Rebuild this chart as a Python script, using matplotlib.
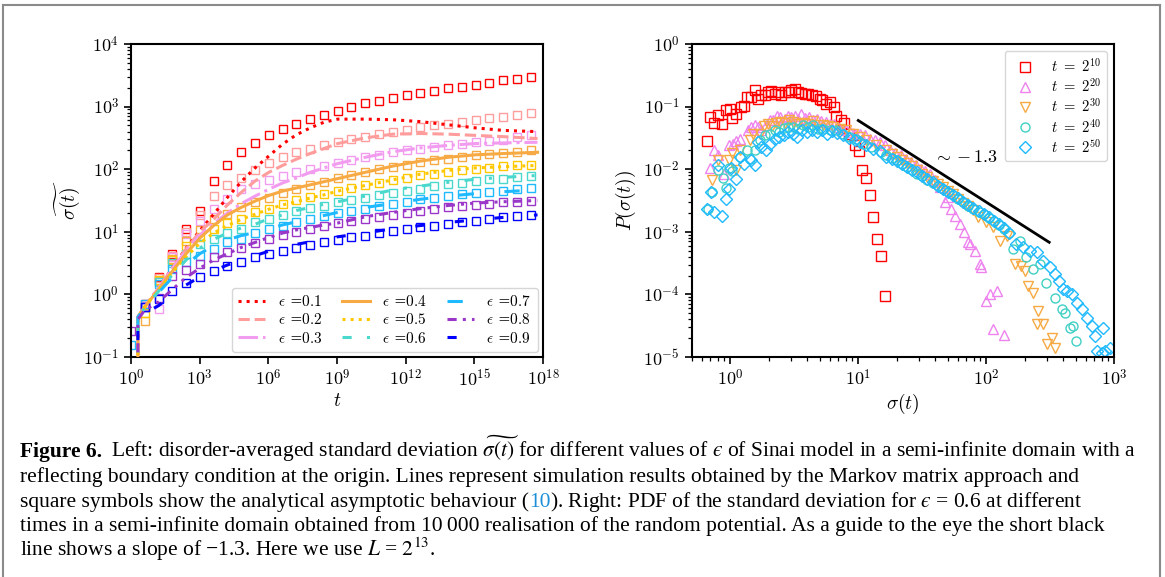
import numpy as np
import matplotlib
matplotlib.use("Agg")
import matplotlib.pyplot as plt
from matplotlib import ticker
from matplotlib.lines import Line2D

plt.rcParams["mathtext.fontset"] = "cm"
plt.rcParams["font.family"] = ["DejaVu Serif"]

# ---------------- left panel data (log10 of sigma~) ----------------
eps_labels = ["0.1", "0.2", "0.3", "0.4", "0.5", "0.6", "0.7", "0.8", "0.9"]
eps_colors = ["#ff0000", "#ff9c9c", "#f29cf0", "#f7a944", "#ffc800",
              "#4ad8cc", "#1eb9ff", "#9a36c8", "#0000ff"]

# analytical squares at t = 2^n
sq_n = [0, 2, 4, 6, 8, 10, 12, 14, 16, 18, 20, 22, 24, 26, 28, 30, 32, 34, 36, 38,
        40, 42, 44, 46, 48, 50, 52, 54, 56, 58]
nan = np.nan
sq_01 = [nan, -0.15, 0.28, 0.65, 1.05, 1.34, 1.81, 2.07, 2.27, 2.42, 2.54, 2.64, 2.72, 2.80, 2.87,
         2.93, 2.99, 3.05, 3.09, 3.14, 3.18, 3.22, 3.25, 3.29, 3.32, 3.35, 3.38, 3.42, 3.44, 3.47]
sq_02 = [nan, -0.2, 0.26, 0.62, 1.0, 1.27, 1.57, 1.74, 1.86, 1.98, 2.10, 2.19, 2.27, 2.33, 2.38,
         2.44, 2.48, 2.52, 2.56, 2.60, 2.63, 2.67, 2.70, 2.73, 2.76, 2.79, 2.81, 2.83, 2.86, 2.89]
sq_03 = [nan, -0.18, -0.23, 0.6, 0.97, 1.18, 1.36, 1.52, 1.69, 1.76, 1.82, 1.89, 1.95, 2.0, 2.05,
         2.10, 2.15, 2.19, 2.23, 2.27, 2.30, 2.33, 2.36, 2.38, 2.40, 2.43, 2.45, 2.47, 2.51, 2.54]
sq_04 = [nan, -0.42, 0.22, 0.56, 0.85, 1.03, 1.20, 1.28, 1.40, 1.48, 1.54, 1.62, 1.69, 1.75, 1.80,
         1.86, 1.91, 1.95, 2.0, 2.04, 2.075, 2.11, 2.14, 2.165, 2.20, 2.22, 2.245, 2.26, 2.28, 2.30]
sq_05 = [nan, -0.3, 0.23, 0.55, 0.78, 0.92, 1.04, 1.14, 1.21, 1.31, 1.37, 1.44, 1.50, 1.555, 1.61,
         1.65, 1.70, 1.75, 1.78, 1.83, 1.86, 1.90, 1.93, 1.955, 1.98, 2.0, 2.02, 2.05, 2.06, 2.075]
sq_06 = [nan, -0.2, 0.2, 0.5, 0.65, 0.80, 0.88, 0.98, 1.05, 1.15, 1.21, 1.27, 1.33, 1.375, 1.41,
         1.47, 1.51, 1.545, 1.59, 1.62, 1.65, 1.69, 1.73, 1.76, 1.78, 1.81, 1.84, 1.85, 1.87, 1.89]
sq_07 = [-0.81, -0.15, 0.17, 0.41, 0.51, 0.62, 0.72, 0.83, 0.89, 0.98, 1.04, 1.09, 1.16, 1.21, 1.25,
         1.30, 1.34, 1.37, 1.41, 1.44, 1.48, 1.52, 1.545, 1.57, 1.60, 1.62, 1.64, 1.65, 1.68, 1.70]
sq_08 = [-0.58, -0.2, -0.05, 0.29, 0.39, 0.48, 0.59, 0.67, 0.74, 0.82, 0.88, 0.95, 1.00, 1.05, 1.09,
         1.14, 1.17, 1.20, 1.24, 1.27, 1.30, 1.33, 1.36, 1.39, 1.41, 1.43, 1.45, 1.47, 1.48, 1.49]
sq_09 = [nan, -0.2, -0.07, 0.06, 0.18, 0.285, 0.37, 0.45, 0.52, 0.59, 0.65, 0.70, 0.74, 0.79, 0.83,
         0.87, 0.91, 0.935, 0.98, 1.01, 1.04, 1.08, 1.10, 1.13, 1.16, 1.18, 1.21, 1.23, 1.25, 1.27]

# Markov-matrix simulation lines at t = 2^n
ln_n = [1, 1, 2, 4, 6, 8, 10, 12, 14, 16, 18, 20, 22, 24, 26, 28, 30, 34, 38, 42, 46, 50, 54, 59]
ln_01 = [-2, -0.36, -0.2, 0.1, 0.42, 0.74, 1.02, 1.28, 1.55, 1.80, 2.02, 2.21, 2.40, 2.55, 2.66,
         2.75, 2.80, 2.80, 2.79, 2.76, 2.71, 2.66, 2.62, 2.60]
ln_02 = [-2, -0.36, -0.2, 0.1, 0.42, 0.73, 1.0, 1.2, 1.43, 1.63, 1.81, 1.95, 2.06, 2.16, 2.25,
         2.33, 2.41, 2.50, 2.56, 2.57, 2.56, 2.54, 2.52, 2.49]
ln_03 = [-2, -0.36, -0.2, 0.1, 0.41, 0.7, 0.95, 1.13, 1.3, 1.45, 1.57, 1.68, 1.78, 1.86, 1.95,
         2.02, 2.09, 2.19, 2.28, 2.34, 2.38, 2.41, 2.42, 2.43]
ln_04 = [-2, -0.36, -0.2, 0.08, 0.37, 0.65, 0.9, 1.1, 1.27, 1.39, 1.49, 1.58, 1.65, 1.70, 1.75,
         1.80, 1.85, 1.95, 2.05, 2.13, 2.19, 2.23, 2.25, 2.27]
ln_05 = [-2, -0.36, -0.2, 0.07, 0.35, 0.6, 0.82, 0.98, 1.1, 1.2, 1.28, 1.36, 1.43, 1.48, 1.54,
         1.59, 1.65, 1.74, 1.83, 1.92, 1.98, 2.02, 2.04, 2.06]
ln_06 = [-2, -0.36, -0.22, 0.05, 0.31, 0.55, 0.74, 0.88, 0.98, 1.06, 1.12, 1.21, 1.27, 1.34, 1.39,
         1.44, 1.48, 1.57, 1.67, 1.73, 1.79, 1.84, 1.87, 1.90]
ln_07 = [-2, -0.36, -0.22, 0.03, 0.27, 0.48, 0.65, 0.78, 0.87, 0.94, 0.99, 1.05, 1.11, 1.16, 1.21,
         1.26, 1.31, 1.39, 1.45, 1.52, 1.57, 1.61, 1.64, 1.67]
ln_08 = [-2, -0.4, -0.25, -0.12, 0.08, 0.27, 0.42, 0.55, 0.65, 0.75, 0.83, 0.91, 0.98, 1.03, 1.07,
         1.11, 1.14, 1.24, 1.31, 1.37, 1.42, 1.46, 1.48, 1.50]
ln_09 = [-2, -0.45, -0.3, -0.18, 0.0, 0.15, 0.28, 0.38, 0.47, 0.55, 0.62, 0.69, 0.74, 0.80, 0.84,
         0.88, 0.92, 0.98, 1.05, 1.10, 1.15, 1.19, 1.23, 1.27]

squares = [sq_01, sq_02, sq_03, sq_04, sq_05, sq_06, sq_07, sq_08, sq_09]
lines = [ln_01, ln_02, ln_03, ln_04, ln_05, ln_06, ln_07, ln_08, ln_09]
styles = [":", "--", "-.", "-", ":", (0, (3, 5, 1, 5)), (0, (5, 10)),
          (0, (3, 2, 1, 2, 1, 2)), (0, (3, 10))]

# ---------------- right panel data (log10 sigma, log10 P), eps = 0.6 ----------------
t_labels = ["10", "20", "30", "40", "50"]
r_colors = ["#ff0000", "#ee82ee", "#f7a944", "#40d0c4", "#1eb9ff"]
r_markers = ["s", "^", "v", "o", "D"]

p10_s = [-0.183, -0.156, -0.123, -0.097, -0.066, -0.037, -0.005, 0.016, 0.047, 0.081, 0.104, 0.13,
         0.164, 0.19, 0.216, 0.242, 0.268, 0.294, 0.32, 0.346, 0.372, 0.398, 0.425, 0.456, 0.477,
         0.503, 0.529, 0.555, 0.581, 0.607, 0.641, 0.672, 0.698, 0.719, 0.745, 0.776, 0.81, 0.829,
         0.862, 0.886, 0.927, 0.972, 1.006, 1.032, 1.063, 1.089, 1.115, 1.147, 1.175, 1.207]
p10_p = [-1.557, -1.167, -1.257, -1.14, -1.284, -1.048, -1.032, -1.177, -1.113, -1.006, -0.995,
         -0.846, -0.846, -0.738, -0.872, -0.819, -0.819, -0.765, -0.749, -0.792, -0.765, -0.819,
         -0.765, -0.765, -0.738, -0.711, -0.765, -0.781, -0.803, -0.803, -0.819, -0.835, -0.872,
         -0.899, -0.963, -0.926, -1.006, -1.156, -1.209, -1.263, -1.434, -1.621, -1.717, -2.006,
         -2.146, -2.408, -2.761, -3.12, -3.39, -4.03]

p20_s = [-0.156, -0.13, -0.097, -0.045, -0.011, 0.02, 0.047, 0.078, 0.138, 0.164, 0.19, 0.216,
         0.242, 0.276, 0.307, 0.333, 0.364, 0.391, 0.425, 0.45, 0.477, 0.503, 0.529, 0.555, 0.581,
         0.615, 0.646, 0.677, 0.711, 0.745, 0.776, 0.808, 0.841, 0.876, 0.907, 0.938, 0.972, 1.011,
         1.05, 1.089, 1.128, 1.167, 1.206, 1.25, 1.29, 1.33, 1.37, 1.41, 1.45, 1.49, 1.52, 1.559,
         1.60, 1.637, 1.676, 1.70, 1.728, 1.754, 1.798, 1.824, 1.858, 1.871, 1.91, 1.949, 1.962,
         2.0, 2.028, 2.08, 2.054, 2.14]
p20_p = [-1.98, -1.69, -1.78, -2.08, -1.62, -1.59, -1.55, -1.51, -1.38, -1.33, -1.30, -1.33, -1.38,
         -1.30, -1.22, -1.22, -1.156, -1.167, -1.193, -1.156, -1.167, -1.156, -1.193, -1.113, -1.177,
         -1.167, -1.209, -1.193, -1.231, -1.247, -1.273, -1.284, -1.327, -1.353, -1.369, -1.407,
         -1.433, -1.433, -1.46, -1.514, -1.53, -1.568, -1.621, -1.70, -1.74, -1.78, -1.84, -1.88,
         -1.93, -1.99, -2.03, -2.076, -2.17, -2.29, -2.53, -2.45, -2.63, -2.74, -2.87, -3.01, -3.16,
         -3.2, -3.31, -3.52, -3.56, -4.11, -4.0, -3.95, -4.56, -4.65]

p30_s = [-0.141, -0.097, -0.011, 0.016, 0.047, 0.073, 0.151, 0.177, 0.229, 0.26, 0.294, 0.328,
         0.359, 0.385, 0.425, 0.456, 0.49, 0.529, 0.568, 0.607, 0.646, 0.685, 0.724, 0.763, 0.802,
         0.854, 0.907, 0.959, 1.011, 1.063, 1.141, 1.219, 1.26, 1.30, 1.34, 1.38, 1.42, 1.46, 1.50,
         1.54, 1.58, 1.62, 1.66, 1.70, 1.74, 1.78, 1.82, 1.86, 1.90, 1.937, 2.0, 2.05, 2.106, 2.158,
         2.223, 2.275, 2.3, 2.327, 2.366, 2.405, 2.393, 2.445, 2.51, 2.476, 2.536]
p30_p = [-2.17, -1.86, -1.85, -1.74, -2.01, -1.70, -1.53, -1.43, -1.43, -1.31, -1.28, -1.31, -1.26,
         -1.24, -1.26, -1.22, -1.24, -1.28, -1.26, -1.27, -1.23, -1.30, -1.29, -1.31, -1.33, -1.36,
         -1.38, -1.43, -1.49, -1.54, -1.62, -1.69, -1.76, -1.80, -1.85, -1.90, -1.95, -2.01, -2.07,
         -2.12, -2.19, -2.24, -2.29, -2.35, -2.40, -2.47, -2.54, -2.59, -2.65, -2.77, -2.84, -2.93,
         -3.15, -3.07, -3.52, -3.55, -3.63, -3.87, -3.98, -4.27, -4.48, -4.48, -4.70, -4.80, -4.86]

p40_s = [-0.174, -0.141, -0.097, -0.058, -0.037, -0.011, 0.016, 0.078, 0.13, 0.156, 0.19, 0.229,
         0.268, 0.307, 0.346, 0.38, 0.417, 0.45, 0.49, 0.529, 0.568, 0.607, 0.646, 0.685, 0.724,
         0.776, 0.829, 0.881, 0.933, 0.985, 1.037, 1.102, 1.18, 1.22, 1.26, 1.30, 1.34, 1.38, 1.42,
         1.46, 1.50, 1.54, 1.58, 1.62, 1.66, 1.70, 1.74, 1.78, 1.82, 1.86, 1.90, 1.94, 1.98, 2.02,
         2.06, 2.10, 2.14, 2.18, 2.21, 2.26, 2.314, 2.366, 2.419, 2.47, 2.536, 2.588, 2.614, 2.653,
         2.679, 2.70]
p40_p = [-2.64, -2.37, -2.01, -2.14, -2.30, -1.98, -2.03, -1.81, -1.69, -1.83, -1.69, -1.54, -1.46,
         -1.44, -1.37, -1.41, -1.34, -1.33, -1.32, -1.35, -1.30, -1.33, -1.30, -1.35, -1.35, -1.37,
         -1.38, -1.43, -1.48, -1.51, -1.59, -1.65, -1.73, -1.78, -1.82, -1.86, -1.92, -1.97, -2.02,
         -2.07, -2.11, -2.17, -2.22, -2.27, -2.32, -2.37, -2.42, -2.48, -2.53, -2.59, -2.64, -2.68,
         -2.72, -2.78, -2.83, -2.89, -2.95, -3.02, -3.28, -3.15, -3.41, -3.60, -3.52, -3.81, -4.06,
         -4.24, -4.30, -4.54, -4.51, -4.74]

p50_s = [-0.183, -0.149, -0.123, -0.097, -0.063, -0.031, -0.011, 0.008, 0.047, 0.078, 0.104, 0.164,
         0.19, 0.216, 0.242, 0.276, 0.307, 0.346, 0.38, 0.417, 0.45, 0.49, 0.524, 0.563, 0.6, 0.641,
         0.677, 0.719, 0.755, 0.797, 0.836, 0.881, 0.927, 0.972, 1.016, 1.063, 1.115, 1.167, 1.219,
         1.26, 1.30, 1.34, 1.38, 1.42, 1.46, 1.50, 1.54, 1.58, 1.62, 1.66, 1.70, 1.74, 1.78, 1.82,
         1.86, 1.90, 1.94, 1.98, 2.02, 2.06, 2.10, 2.14, 2.18, 2.236, 2.288, 2.34, 2.393, 2.445,
         2.497, 2.536, 2.57, 2.596, 2.627, 2.666, 2.705, 2.744, 2.783, 2.823, 2.849, 2.914, 2.867,
         2.901, 2.927, 2.966]
p50_p = [-2.63, -2.37, -2.69, -1.94, -2.74, -2.47, -2.31, -1.98, -2.16, -1.81, -1.92, -1.86, -1.93,
         -1.57, -1.65, -1.70, -1.59, -1.51, -1.48, -1.46, -1.41, -1.43, -1.48, -1.38, -1.41, -1.38,
         -1.41, -1.38, -1.43, -1.39, -1.42, -1.46, -1.50, -1.54, -1.57, -1.62, -1.68, -1.71, -1.80,
         -1.83, -1.87, -1.91, -1.96, -2.01, -2.05, -2.11, -2.16, -2.21, -2.27, -2.31, -2.36, -2.41,
         -2.46, -2.52, -2.57, -2.62, -2.67, -2.72, -2.77, -2.82, -2.88, -2.94, -3.02, -3.2, -3.25,
         -3.31, -3.33, -3.47, -3.57, -3.68, -3.78, -3.92, -3.95, -4.0, -4.14, -4.24, -4.38, -4.51,
         -4.67, -4.54, -4.91, -4.93, -4.90, -4.86]

slope_x = [10, 310]
slope_y = [0.06, 6.8e-4]

right_s = [p10_s, p20_s, p30_s, p40_s, p50_s]
right_p = [p10_p, p20_p, p30_p, p40_p, p50_p]


def pow10_fmt(v, _):
    return r"$10^{%d}$" % int(round(np.log10(v)))


W, H = 1165, 577
fig = plt.figure(figsize=(W / 100, H / 100), dpi=100)

# ---------------- left panel ----------------
axl = fig.add_axes([131 / W, 1 - 357 / H, (543 - 131) / W, (357 - 44) / H])
for i in range(9):
    axl.plot(2.0 ** np.array(sq_n), 10 ** np.array(squares[i]), "s", ms=6, mfc="none",
             mec=eps_colors[i], mew=1.0, zorder=2)
handles = []
for i in range(9):
    h, = axl.plot(2.0 ** np.array(ln_n), 10 ** np.array(lines[i]), color=eps_colors[i],
                  ls=styles[i], lw=2.2, zorder=3)
    handles.append(h)
axl.set_xscale("log")
axl.set_yscale("log")
axl.set_xlim(1, 1e18)
axl.set_ylim(0.1, 1e4)
axl.xaxis.set_major_locator(ticker.FixedLocator(10.0 ** np.arange(0, 19, 3)))
axl.xaxis.set_minor_locator(ticker.NullLocator())
axl.xaxis.set_major_formatter(ticker.FuncFormatter(pow10_fmt))
axl.yaxis.set_major_locator(ticker.LogLocator(base=10, numticks=10))
axl.yaxis.set_minor_locator(ticker.LogLocator(base=10, subs=np.arange(2, 10), numticks=20))
axl.yaxis.set_minor_formatter(ticker.NullFormatter())
axl.yaxis.set_major_formatter(ticker.FuncFormatter(pow10_fmt))
axl.tick_params(labelsize=13, width=1.2, length=5)
axl.tick_params(which="minor", width=0.9, length=3)
for sp in axl.spines.values():
    sp.set_linewidth(1.5)
axl.set_xlabel(r"$t$", fontsize=14, labelpad=2)
axl.set_ylabel(r"$\widetilde{\sigma(t)}$", fontsize=14, labelpad=1)
axl.legend(handles, [r"$\epsilon$ =$%s$" % e for e in eps_labels], ncol=3, loc="lower right",
           fontsize=11, handlelength=1.8, columnspacing=1.3, borderpad=0.4, labelspacing=0.2,
           borderaxespad=0.35, fancybox=True, framealpha=0.8)

# ---------------- right panel ----------------
axr = fig.add_axes([691.7 / W, 1 - 357 / H, (1114.3 - 691.7) / W, (357 - 44) / H])
for i in range(5):
    axr.plot(10 ** np.array(right_s[i]), 10 ** np.array(right_p[i]), r_markers[i], ls="none",
             ms=6.5 if r_markers[i] in "s^vo" else 6, mfc="none", mec=r_colors[i], mew=1.0,
             label=r"$t\ =\ 2^{%s}$" % t_labels[i])
axr.plot(slope_x, slope_y, color="black", lw=2)
axr.text(69, 0.0155, r"$\sim -1.3$", fontsize=13, ha="center", va="center", zorder=5)
axr.set_xscale("log")
axr.set_yscale("log")
axr.set_xlim(0.5, 1000)
axr.set_ylim(1e-5, 1)
axr.xaxis.set_major_locator(ticker.LogLocator(base=10, numticks=10))
axr.xaxis.set_minor_locator(ticker.LogLocator(base=10, subs=np.arange(2, 10), numticks=20))
axr.yaxis.set_major_locator(ticker.LogLocator(base=10, numticks=10))
axr.yaxis.set_minor_locator(ticker.LogLocator(base=10, subs=np.arange(2, 10), numticks=20))
for ax_ in (axr.xaxis, axr.yaxis):
    ax_.set_major_formatter(ticker.FuncFormatter(pow10_fmt))
    ax_.set_minor_formatter(ticker.NullFormatter())
axr.tick_params(labelsize=13, width=1.2, length=5)
axr.tick_params(which="minor", width=0.9, length=3)
for sp in axr.spines.values():
    sp.set_linewidth(1.5)
axr.set_xlabel(r"$\sigma(t)$", fontsize=14, labelpad=2)
axr.set_ylabel(r"$P(\sigma(t))$", fontsize=14, labelpad=4)
axr.legend(loc="upper right", fontsize=10.5, numpoints=1, borderpad=0.4, labelspacing=0.15,
           fancybox=True, framealpha=0.8)

# ---------------- frame around figure ----------------
gray = "#8a8a8a"
fig.add_artist(Line2D([3 / W, 3 / W], [0, 1 - 5 / H], color=gray, lw=1.5))
fig.add_artist(Line2D([3 / W, 1160 / W], [1 - 5 / H, 1 - 5 / H], color=gray, lw=1.5))
fig.add_artist(Line2D([1160 / W, 1160 / W], [0, 1 - 5 / H], color=gray, lw=1.5))

# ---------------- caption ----------------
cap = fig.add_axes([0, 0, 1, 1])
cap.axis("off")
cfont = dict(family="Liberation Serif", fontsize=15.5, math_fontfamily="stix")
base = [457, 482, 507, 531.5, 556]

caption = [
    [("Figure 6.", "black", "bold", 0),
     (r"Left: disorder-averaged standard deviation $\widetilde{\sigma(t)}$ for different values of "
      "$\u03f5$ of Sinai model in a semi-infinite domain with a", "black", "normal", 9)],
    [("reflecting boundary condition at the origin. Lines represent simulation results obtained "
      "by the Markov matrix approach and", "black", "normal", 0)],
    [("square symbols show the analytical asymptotic behaviour (", "black", "normal", 0),
     ("10", "#1d8fd8", "normal", 0),
     ("). Right: PDF of the standard deviation for $\u03f5$ = 0.6 at different", "black", "normal", 0)],
    [("times in a semi-infinite domain obtained from 10\u2009000 realisation of the random "
      "potential. As a guide to the eye the short black", "black", "normal", 0)],
    [("line shows a slope of \u22121.3. Here we use $L$ = $2^{13}$.", "black", "normal", 0)],
]
for row, yb in zip(caption, base):
    prev = None
    for txt, col, wt, gap in row:
        if prev is None:
            prev = cap.text(20 / W, 1 - yb / H, txt, color=col, fontweight=wt, ha="left",
                            va="baseline", transform=fig.transFigure, **cfont)
        else:
            prev = cap.annotate(txt, xy=(1, H - yb), xycoords=(prev, "figure pixels"),
                                xytext=(gap, 0), textcoords="offset pixels", color=col,
                                fontweight=wt, ha="left", va="baseline", **cfont)

fig.savefig("out.png", dpi=100)
